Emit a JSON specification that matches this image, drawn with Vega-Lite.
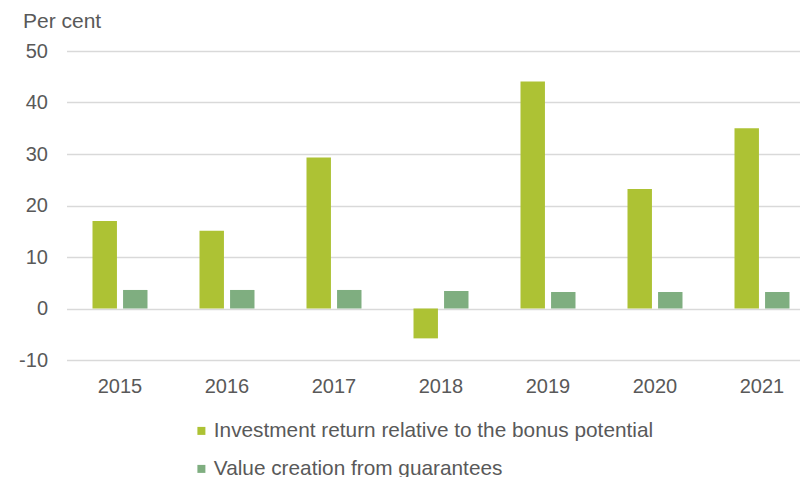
{
  "$schema": "https://vega.github.io/schema/vega-lite/v6.json",
  "autosize": "none",
  "padding": {"left": 66.5, "top": 51, "right": 0, "bottom": 117},
  "width": 733.5,
  "height": 309,
  "background": "white",
  "config": {
    "view": {"stroke": null},
    "font": "Liberation Sans",
    "axis": {"labelFont": "Liberation Sans", "labelColor": "#595959", "titleColor": "#595959"},
    "legend": {"labelFont": "Liberation Sans", "labelColor": "#595959"}
  },
  "data": {
    "values": [
      {"year": "2015", "series": "Investment return relative to the bonus potential", "value": 17.0},
      {"year": "2016", "series": "Investment return relative to the bonus potential", "value": 15.1},
      {"year": "2017", "series": "Investment return relative to the bonus potential", "value": 29.3},
      {"year": "2018", "series": "Investment return relative to the bonus potential", "value": -5.8},
      {"year": "2019", "series": "Investment return relative to the bonus potential", "value": 44.1},
      {"year": "2020", "series": "Investment return relative to the bonus potential", "value": 23.2},
      {"year": "2021", "series": "Investment return relative to the bonus potential", "value": 35.0},
      {"year": "2015", "series": "Value creation from guarantees", "value": 3.6},
      {"year": "2016", "series": "Value creation from guarantees", "value": 3.6},
      {"year": "2017", "series": "Value creation from guarantees", "value": 3.6},
      {"year": "2018", "series": "Value creation from guarantees", "value": 3.4},
      {"year": "2019", "series": "Value creation from guarantees", "value": 3.2},
      {"year": "2020", "series": "Value creation from guarantees", "value": 3.2},
      {"year": "2021", "series": "Value creation from guarantees", "value": 3.2}
    ]
  },
  "mark": {"type": "bar"},
  "encoding": {
    "x": {
      "field": "year",
      "type": "nominal",
      "scale": {"paddingInner": 0.486, "paddingOuter": 0.243, "range": [0, 749]},
      "axis": {
        "title": null,
        "labelAngle": 0,
        "labelFontSize": 20,
        "labelPadding": 16,
        "domain": false,
        "ticks": false,
        "grid": false
      }
    },
    "xOffset": {
      "field": "series",
      "type": "nominal",
      "scale": {"paddingInner": 0.2, "paddingOuter": 0}
    },
    "y": {
      "field": "value",
      "type": "quantitative",
      "scale": {"domain": [-10, 50], "nice": false, "zero": false},
      "axis": {
        "title": "Per cent",
        "titleAngle": 0,
        "titleAlign": "left",
        "titleBaseline": "alphabetic",
        "titleX": -44,
        "titleY": -24,
        "titleFontSize": 21,
        "titleFontWeight": "normal",
        "values": [-10, 0, 10, 20, 30, 40, 50],
        "labelExpr": "replace(datum.label, '−', '-')",
        "labelFontSize": 20,
        "labelPadding": 19,
        "domain": false,
        "ticks": false,
        "grid": true,
        "gridColor": "#d9d9d9",
        "gridWidth": 1.3
      }
    },
    "color": {
      "field": "series",
      "type": "nominal",
      "scale": {
        "domain": ["Investment return relative to the bonus potential", "Value creation from guarantees"],
        "range": ["#adc234", "#7fae80"]
      },
      "legend": {
        "title": null,
        "orient": "none",
        "legendX": 124.5,
        "legendY": 369.5,
        "direction": "vertical",
        "symbolType": "square",
        "symbolSize": 64,
        "symbolStrokeWidth": 0,
        "labelFontSize": 20.8,
        "labelOffset": 2,
        "rowPadding": 16,
        "padding": 0,
        "labelLimit": 700
      }
    }
  }
}
